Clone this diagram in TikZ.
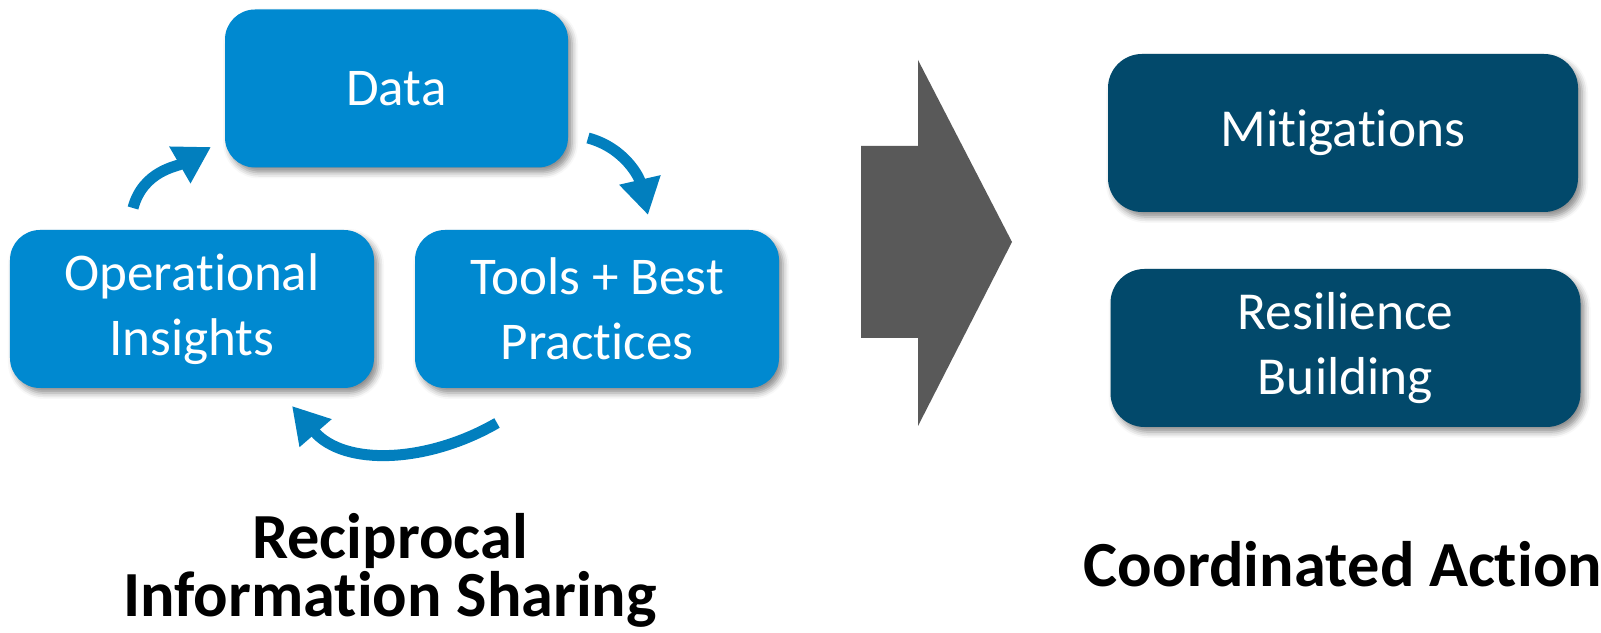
\documentclass[tikz,border=0pt]{standalone}
\usepackage{fontspec}
\setmainfont{Carlito}[Ligatures={NoCommon,NoRequired,NoContextual},Contextuals=NoAlternate]
\usetikzlibrary{arrows.meta,shadows.blur}
%% keep t and i apart (no ti ligature)
\XeTeXinterchartokenstate=1
\newXeTeXintercharclass\tletter
\XeTeXcharclass`t=\tletter
\XeTeXinterchartoks\tletter 0={\kern0pt}
\definecolor{cycblue}{RGB}{0,137,208}
\definecolor{actblue}{RGB}{2,73,107}
\definecolor{arrblue}{RGB}{2,127,190}
\definecolor{bigarrow}{RGB}{89,89,89}
\tikzset{
  boxshadow/.style={blur shadow={shadow xshift=0.04cm, shadow yshift=-0.05cm,
      shadow blur radius=0.06cm, shadow opacity=45}},
  cycbox/.style={rounded corners=0.3cm, fill=cycblue, text=white, align=center,
      minimum width=3.64cm, minimum height=1.58cm, inner sep=0pt,
      font=\fontsize{15.1}{18.4}\selectfont, boxshadow},
  actbox/.style={rounded corners=0.34cm, fill=actblue, text=white, align=center,
      minimum width=4.70cm, minimum height=1.58cm, inner sep=0pt,
      font=\fontsize{15.2}{18.6}\selectfont, boxshadow},
  cycarrow/.style={arrblue, line width=0.11cm,
      -{Triangle[length=0.36cm,width=0.40cm]}},
  titletext/.style={align=center, inner sep=0pt,
      font=\bfseries\fontsize{18.3}{16.5}\selectfont}
}
\begin{document}
\begin{tikzpicture}
        \useasboundingbox (0,0) rectangle (16.01,-6.33);
        %%cycle
        \node[cycbox, minimum width=3.43cm] (data) at (3.965,-0.885){Data};
        \node[cycbox] (insights) at (1.92,-3.09){Operational\\Insights};
        \node[cycbox] (tools) at (5.97,-3.09){Tools + Best\\Practices};
        %%cycle arrows
        \coordinate (a1s) at (1.33,-2.08);
        \coordinate (a1e) at (2.11,-1.47);
        \coordinate (a2s) at (5.88,-1.38);
        \coordinate (a2e) at (6.48,-2.15);
        \coordinate (a3s) at (4.97,-4.23);
        \coordinate (a3e) at (2.92,-4.06);
            \draw[cycarrow] (a1s) to[out=75, in=210] (a1e);
            \draw[cycarrow] (a2s) to[out=-15, in=103] (a2e);
            \draw[cycarrow] (a3s) to[out=210, in=-49] (a3e);
        %%big arrow
        \fill[bigarrow] (8.61,-1.46) -- (9.18,-1.46) -- (9.18,-0.60) -- (10.12,-2.42)
            -- (9.18,-4.26) -- (9.18,-3.38) -- (8.61,-3.38) -- cycle;
        %%actions
        \node[actbox] (mitig) at (13.43,-1.33){Mitigations};
        \node[actbox] (resil) at (13.455,-3.48){Resilience\\Building};
        %%titles
        \node[titletext] (recip) at (3.90,-5.70){Reciprocal\\Information Sharing};
        \node[titletext] (coord) at (13.43,-5.64){Coordinated Action};
\end{tikzpicture}
\end{document}
